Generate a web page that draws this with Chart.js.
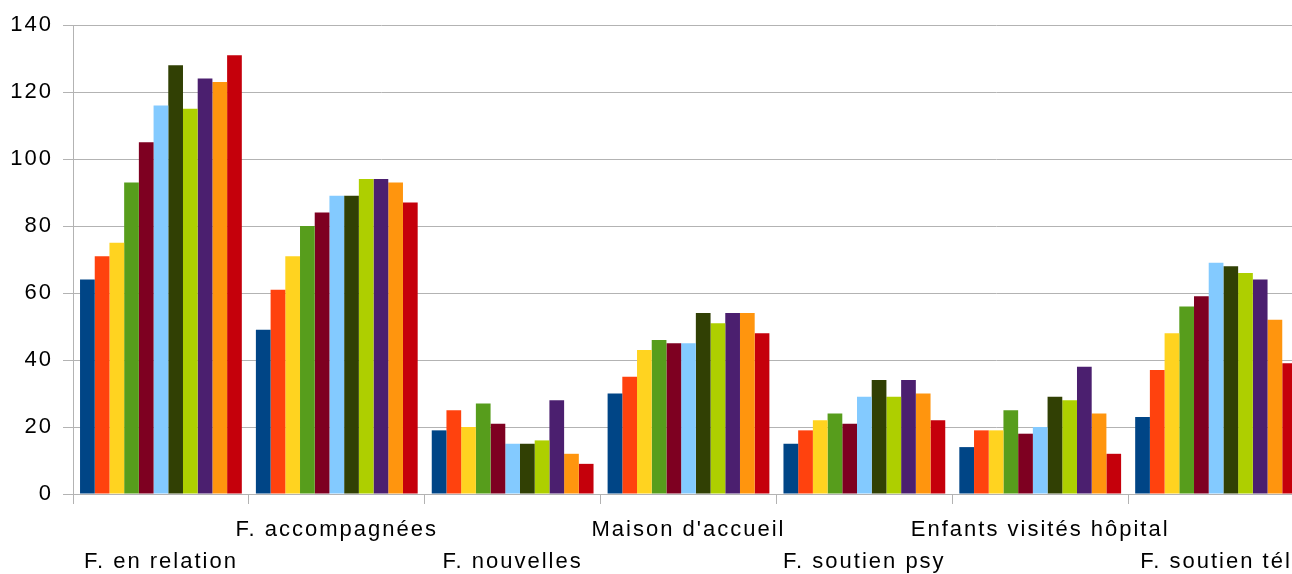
<!DOCTYPE html>
<html>
<head>
<meta charset="utf-8">
<script src="https://cdn.jsdelivr.net/npm/chart.js@4/dist/chart.umd.min.js"></script>
<style>
  html, body { margin:0; padding:0; background:#fff; overflow:hidden; width:1292px; height:574px; }
  #wrap { width:1304px; height:574px; }
</style>
</head>
<body>
<div id="wrap"><canvas id="myChart" width="1304" height="574"></canvas></div>
<script>
    var categories = ["F. en relation", "F. accompagnées", "F. nouvelles", "Maison d'accueil",
        "F. soutien psy", "Enfants visités hôpital", "F. soutien tél"]

    // une série par couleur (11 séries, palette LibreOffice)
    var s1  = [64, 49, 19, 30, 15, 14, 23]
    var s2  = [71, 61, 25, 35, 19, 19, 37]
    var s3  = [75, 71, 20, 43, 22, 19, 48]
    var s4  = [93, 80, 27, 46, 24, 25, 56]
    var s5  = [105, 84, 21, 45, 21, 18, 59]
    var s6  = [116, 89, 15, 45, 29, 20, 69]
    var s7  = [128, 89, 15, 54, 34, 29, 68]
    var s8  = [115, 94, 16, 51, 29, 28, 66]
    var s9  = [124, 94, 28, 54, 34, 38, 64]
    var s10 = [123, 93, 12, 54, 30, 24, 52]
    var s11 = [131, 87, 9, 48, 22, 12, 39]

    var yTicks = [0, 20, 40, 60, 80, 100, 120, 140]

    var series = [s1, s2, s3, s4, s5, s6, s7, s8, s9, s10, s11]
    var colors = ["#004586", "#ff420e", "#ffd320", "#579d1c", "#7e0021", "#83caff",
        "#314004", "#aecf00", "#4b1f6f", "#ff950e", "#c5000b"]

    // étiquettes décalées sur deux lignes, comme dans l'original
    var labels = categories.map(function(c, i){
        return i % 2 === 0 ? ["", c] : [c, ""]
    })

    var datasets = series.map(function(data, i){
        return {
            label: "Série " + (i + 1),
            data: data,
            backgroundColor: colors[i],
            borderWidth: 0,
            categoryPercentage: 0.92,
            barPercentage: 1
        }
    })

    var spacing = {
        id: "spacing",
        beforeDraw: function(chart){ chart.ctx.letterSpacing = "2px" }
    }

    var gridColor = "#b3b3b3"
    var ctx = document.getElementById("myChart").getContext("2d")
    new Chart(ctx, {
        type: "bar",
        data: { labels: labels, datasets: datasets },
        plugins: [spacing],
        options: {
            responsive: false,
            animation: false,
            layout: { padding: { top: 25, left: 0, right: 0, bottom: 0 } },
            plugins: { legend: { display: false }, tooltip: { enabled: false } },
            scales: {
                x: {
                    grid: { drawOnChartArea: false, drawTicks: true, tickLength: 10, color: gridColor, offset: true },
                    border: { color: gridColor },
                    ticks: { color: "#000", font: { family: "Liberation Sans", size: 22, lineHeight: 1.45 }, padding: 10, maxRotation: 0, autoSkip: false },
                    afterFit: function(scale){ scale.height = 80 }
                },
                y: {
                    min: 0,
                    max: 140,
                    afterBuildTicks: function(scale){
                        scale.ticks = yTicks.map(function(v){ return { value: v } })
                    },
                    grid: { color: gridColor, tickLength: 10 },
                    border: { color: gridColor },
                    ticks: { color: "#000", font: { family: "Liberation Sans", size: 22 }, padding: 10 },
                    afterFit: function(scale){ scale.width = 73 }
                }
            }
        }
    })
</script>
</body>
</html>
